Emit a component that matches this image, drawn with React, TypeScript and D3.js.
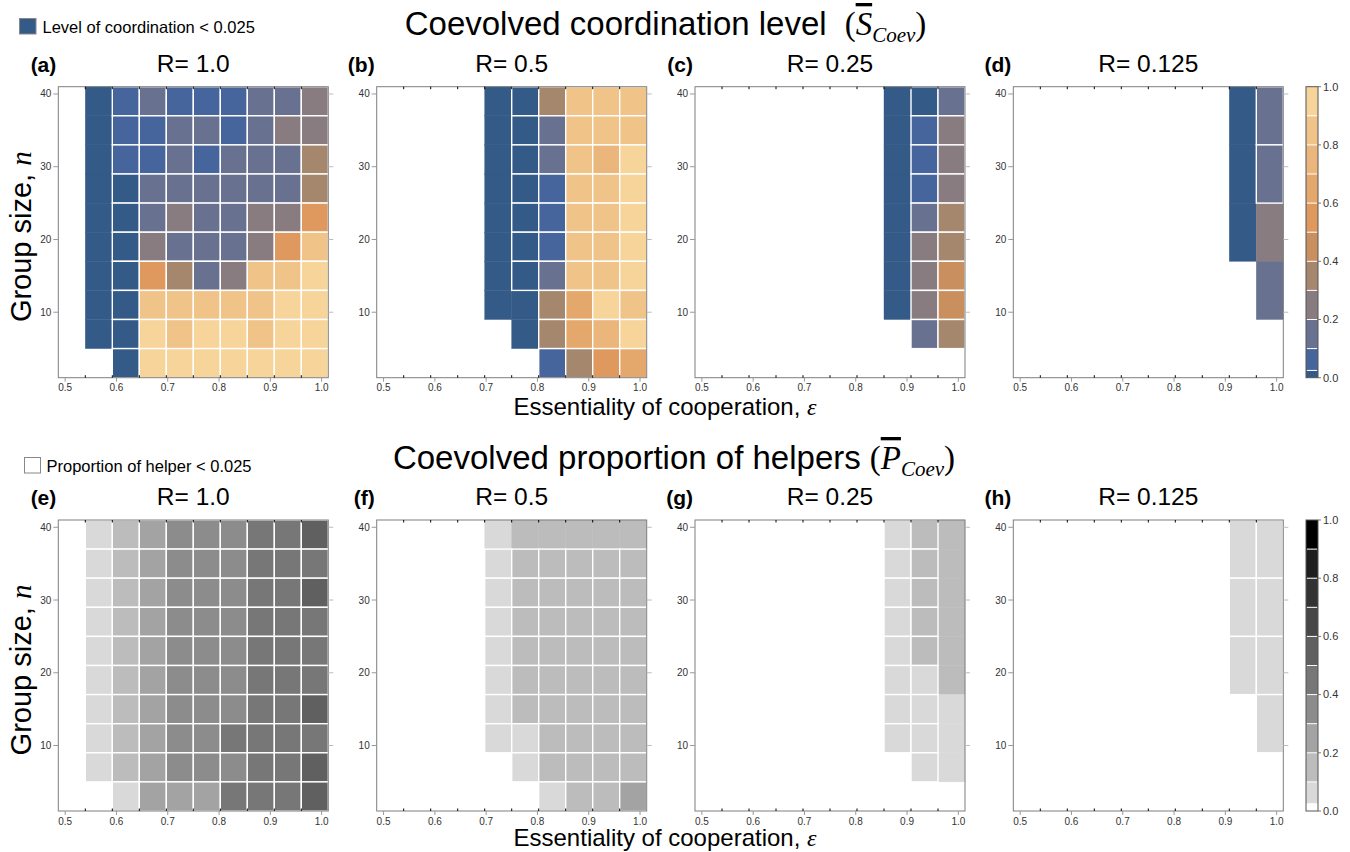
import { scaleLinear, scaleBand, scaleThreshold } from 'd3';

// group size rows (cell centres), top to bottom
const nRows4 = [39, 35, 31, 27, 23, 19, 15, 11, 7, 3];
const nRows8 = [37, 29, 21, 13, 5];
// essentiality columns (cell centres)
const epsilonCols = [0.513, 0.566, 0.618, 0.671, 0.724, 0.776, 0.829, 0.882, 0.934, 0.987];
const xTicks = [0.5, 0.6, 0.7, 0.8, 0.9, 1.0];
const yTicks = [10, 20, 30, 40];
const barTicks = [0, 0.2, 0.4, 0.6, 0.8, 1.0];
const binEdges = [0.025, 0.1, 0.2, 0.3, 0.4, 0.5, 0.6, 0.7, 0.8, 0.9];

const coordColors = ['#345a88', '#47659d', '#68718f', '#887c80', '#a5876e', '#c98f5e',
  '#df995f', '#e5a86c', '#ebb67b', '#f0c489', '#f6d49a'];
const helperColors = ['#ffffff', '#d9d9d9', '#bcbcbc', '#a3a3a3', '#8c8c8c', '#777777',
  '#606060', '#474747', '#333333', '#1e1e1e', '#000000'];

const _ = null;
// coordination level; 0 = below 0.025 (overlay, no mesh)
const coordR1 = [
  [_, 0, 0.06, 0.15, 0.07, 0.06, 0.05, 0.14, 0.16, 0.24],
  [_, 0, 0.06, 0.07, 0.15, 0.13, 0.05, 0.16, 0.26, 0.25],
  [_, 0, 0.06, 0.06, 0.14, 0.05, 0.15, 0.16, 0.14, 0.34],
  [_, 0, 0.02, 0.15, 0.14, 0.16, 0.15, 0.14, 0.13, 0.36],
  [_, 0, 0.02, 0.13, 0.25, 0.15, 0.14, 0.24, 0.26, 0.56],
  [_, 0, 0.02, 0.26, 0.15, 0.14, 0.16, 0.25, 0.55, 0.84],
  [_, 0, 0.02, 0.55, 0.35, 0.15, 0.26, 0.85, 0.83, 0.91],
  [_, 0, 0.02, 0.84, 0.85, 0.83, 0.86, 0.84, 0.92, 0.93],
  [_, 0, 0.02, 0.93, 0.84, 0.92, 0.94, 0.85, 0.91, 0.93],
  [_, _, 0.02, 0.94, 0.93, 0.95, 0.92, 0.93, 0.94, 0.92],
];
const coordR05 = [
  [_, _, _, _, 0, 0.02, 0.35, 0.85, 0.84, 0.86],
  [_, _, _, _, 0, 0.02, 0.15, 0.84, 0.85, 0.83],
  [_, _, _, _, 0, 0.02, 0.16, 0.86, 0.75, 0.93],
  [_, _, _, _, 0, 0.02, 0.06, 0.85, 0.84, 0.92],
  [_, _, _, _, 0, 0.02, 0.05, 0.84, 0.85, 0.93],
  [_, _, _, _, 0, 0.02, 0.06, 0.85, 0.86, 0.92],
  [_, _, _, _, 0, 0.02, 0.15, 0.84, 0.85, 0.94],
  [_, _, _, _, 0, 0, 0.36, 0.65, 0.93, 0.85],
  [_, _, _, _, _, 0, 0.35, 0.66, 0.74, 0.92],
  [_, _, _, _, _, _, 0.06, 0.36, 0.55, 0.64],
];
const coordR025 = [
  [_, _, _, _, _, _, _, 0, 0.02, 0.15],
  [_, _, _, _, _, _, _, 0, 0.06, 0.25],
  [_, _, _, _, _, _, _, 0, 0.05, 0.24],
  [_, _, _, _, _, _, _, 0, 0.06, 0.26],
  [_, _, _, _, _, _, _, 0, 0.15, 0.35],
  [_, _, _, _, _, _, _, 0, 0.25, 0.36],
  [_, _, _, _, _, _, _, 0, 0.24, 0.45],
  [_, _, _, _, _, _, _, 0, 0.26, 0.46],
  [_, _, _, _, _, _, _, _, 0.15, 0.35],
  [_, _, _, _, _, _, _, _, _, _],
];
const coordR0125 = [
  [_, _, _, _, _, _, _, _, 0, 0.15],
  [_, _, _, _, _, _, _, _, 0, 0.14],
  [_, _, _, _, _, _, _, _, 0, 0.25],
  [_, _, _, _, _, _, _, _, _, 0.15],
  [_, _, _, _, _, _, _, _, _, _],
];

// proportion of helpers
const helpR1 = [
  [_, 0.07, 0.15, 0.25, 0.35, 0.36, 0.34, 0.45, 0.46, 0.55],
  [_, 0.08, 0.16, 0.26, 0.34, 0.35, 0.36, 0.44, 0.45, 0.47],
  [_, 0.07, 0.15, 0.25, 0.36, 0.34, 0.35, 0.46, 0.45, 0.54],
  [_, 0.08, 0.16, 0.24, 0.35, 0.36, 0.34, 0.45, 0.44, 0.46],
  [_, 0.07, 0.15, 0.26, 0.34, 0.35, 0.36, 0.44, 0.46, 0.45],
  [_, 0.08, 0.16, 0.25, 0.35, 0.34, 0.35, 0.45, 0.45, 0.47],
  [_, 0.07, 0.15, 0.24, 0.36, 0.35, 0.34, 0.46, 0.44, 0.55],
  [_, 0.08, 0.16, 0.25, 0.35, 0.36, 0.45, 0.44, 0.46, 0.46],
  [_, 0.07, 0.15, 0.26, 0.34, 0.35, 0.36, 0.45, 0.45, 0.56],
  [_, _, 0.08, 0.25, 0.24, 0.26, 0.45, 0.44, 0.46, 0.54],
];
const helpR05 = [
  [_, _, _, _, 0.08, 0.15, 0.16, 0.15, 0.16, 0.15],
  [_, _, _, _, 0.07, 0.16, 0.15, 0.15, 0.16, 0.15],
  [_, _, _, _, 0.08, 0.15, 0.16, 0.16, 0.15, 0.16],
  [_, _, _, _, 0.07, 0.16, 0.15, 0.15, 0.16, 0.15],
  [_, _, _, _, 0.08, 0.15, 0.16, 0.16, 0.15, 0.16],
  [_, _, _, _, 0.07, 0.16, 0.15, 0.15, 0.16, 0.15],
  [_, _, _, _, 0.08, 0.15, 0.16, 0.16, 0.15, 0.16],
  [_, _, _, _, 0.07, 0.08, 0.15, 0.16, 0.15, 0.15],
  [_, _, _, _, _, 0.07, 0.16, 0.15, 0.15, 0.16],
  [_, _, _, _, _, _, 0.07, 0.15, 0.16, 0.25],
];
const helpR025 = [
  [_, _, _, _, _, _, _, 0.07, 0.15, 0.16],
  [_, _, _, _, _, _, _, 0.08, 0.16, 0.15],
  [_, _, _, _, _, _, _, 0.07, 0.15, 0.15],
  [_, _, _, _, _, _, _, 0.08, 0.16, 0.16],
  [_, _, _, _, _, _, _, 0.07, 0.15, 0.15],
  [_, _, _, _, _, _, _, 0.08, 0.07, 0.16],
  [_, _, _, _, _, _, _, 0.07, 0.08, 0.07],
  [_, _, _, _, _, _, _, 0.08, 0.07, 0.08],
  [_, _, _, _, _, _, _, _, 0.07, 0.07],
  [_, _, _, _, _, _, _, _, _, _],
];
const helpR0125 = [
  [_, _, _, _, _, _, _, _, 0.07, 0.08],
  [_, _, _, _, _, _, _, _, 0.08, 0.07],
  [_, _, _, _, _, _, _, _, 0.07, 0.08],
  [_, _, _, _, _, _, _, _, _, 0.07],
  [_, _, _, _, _, _, _, _, _, _],
];

// cells drawn without mesh lines: [row, col]
const bareD = [[2, 9], [3, 9]];
const bareF = [[0, 4], [0, 5], [0, 6], [0, 7], [0, 8], [0, 9]];
const bareG = [[0, 9], [1, 9], [2, 9], [3, 9], [4, 9], [5, 9], [6, 9], [7, 9], [8, 9]];

const SANS = 'Liberation Sans, Arial, Helvetica, sans-serif';
const SERIF = 'Liberation Serif, Times New Roman, serif';
const W = 270;
const H = 291;
const lefts = [58.3, 376.7, 695, 1013.3];
const tops = [86.7, 520];
const xTitleY = [415, 846];

const coordColor = scaleThreshold<number, string>().domain(binEdges).range(coordColors);
const helperColor = scaleThreshold<number, string>().domain(binEdges).range(helperColors);

function Panel({ left, top, grid, rows, step, colour, bare, tag, R }) {
  const x = scaleLinear().domain([0.4866, 1.013]).range([0, W]);
  const y = scaleLinear().domain([1, 41]).range([H, 0]);
  const band = scaleBand().domain(epsilonCols.map(String)).range([x(0.4866), x(1.013)]);
  const bareSet = new Set(bare.map(([r, c]) => r + '-' + c));
  const cells = [];
  grid.forEach((row, r) => row.forEach((v, c) => {
    if (v === null) return;
    const n = rows[r];
    const y0 = y(Math.min(n + step / 2, 41));
    const y1 = y(Math.max(n - step / 2, 1));
    const mesh = v !== 0 && !bareSet.has(r + '-' + c);
    cells.push({ key: r + '-' + c, x: band(String(epsilonCols[c])), y: y0, h: y1 - y0, fill: colour(v), mesh });
  }));
  const bounds = epsilonCols.slice(1).map((e) => band(String(e)));
  return (
    <g transform={`translate(${left},${top})`}>
      {cells.filter((d) => !d.mesh).map((d) => (
        <rect key={d.key} x={d.x} y={d.y} width={band.bandwidth()} height={d.h} fill={d.fill} stroke={d.fill} strokeWidth={0.4} />
      ))}
      {cells.filter((d) => d.mesh).map((d) => (
        <rect key={d.key} x={d.x} y={d.y} width={band.bandwidth()} height={d.h} fill={d.fill} stroke="#fff" strokeWidth={1.4} />
      ))}
      <rect x={0} y={0} width={W} height={H} fill="none" stroke="#7f7f7f" strokeWidth={1} />
      {bounds.map((b, i) => (
        <g key={i}>
          <line x1={b} x2={b} y1={0} y2={2.5} stroke="#000" />
          <line x1={b} x2={b} y1={H} y2={H - 2.5} stroke="#000" />
        </g>
      ))}
      {xTicks.map((t) => (
        <g key={t} transform={`translate(${x(t)},${H})`}>
          <line y1={0} y2={4} stroke="#999" />
          <text y={13.5} textAnchor="middle" fontSize={10} fill="#333" fontFamily={SANS}>{t.toFixed(1)}</text>
        </g>
      ))}
      {yTicks.map((t) => (
        <g key={t} transform={`translate(0,${y(t)})`}>
          <line x1={-5} x2={0} stroke="#999" />
          <line x1={W} x2={W + 5} stroke="#bbb" />
          <text x={-7} dy="0.35em" textAnchor="end" fontSize={10} fill="#333" fontFamily={SANS}>{t}</text>
        </g>
      ))}
      <text x={-2} y={-15} textAnchor="end" fontSize={21} fontWeight="bold" fontFamily={SANS}>{tag}</text>
      <text x={W / 2} y={-15} textAnchor="middle" fontSize={24.5} fontFamily={SANS}>R= {R}</text>
    </g>
  );
}

function ColorBar({ left, top, colors }) {
  const y = scaleLinear().domain([0, 1]).range([top + H, top]);
  const edges = [0, ...binEdges, 1];
  return (
    <g>
      {colors.map((c, i) => (
        <rect key={i} x={left} y={y(edges[i + 1])} width={12} height={y(edges[i]) - y(edges[i + 1])} fill={c} />
      ))}
      {binEdges.map((e) => (
        <line key={e} x1={left + 1} x2={left + 11} y1={y(e)} y2={y(e)} stroke="#fff" strokeWidth={1} />
      ))}
      <rect x={left} y={top} width={12} height={H} fill="none" stroke="#555" strokeWidth={1} />
      {barTicks.map((t) => (
        <g key={t} transform={`translate(${left + 12},${y(t)})`}>
          <line x1={0} x2={3} stroke="#777" />
          <text x={5} dy="0.35em" fontSize={11} fill="#333" fontFamily={SANS}>{t.toFixed(1)}</text>
        </g>
      ))}
    </g>
  );
}

const topPanels = [
  { tag: '(a)', R: '1.0', grid: coordR1, rows: nRows4, step: 4, bare: [] },
  { tag: '(b)', R: '0.5', grid: coordR05, rows: nRows4, step: 4, bare: [] },
  { tag: '(c)', R: '0.25', grid: coordR025, rows: nRows4, step: 4, bare: [] },
  { tag: '(d)', R: '0.125', grid: coordR0125, rows: nRows8, step: 8, bare: bareD },
];
const bottomPanels = [
  { tag: '(e)', R: '1.0', grid: helpR1, rows: nRows4, step: 4, bare: [] },
  { tag: '(f)', R: '0.5', grid: helpR05, rows: nRows4, step: 4, bare: bareF },
  { tag: '(g)', R: '0.25', grid: helpR025, rows: nRows4, step: 4, bare: bareG },
  { tag: '(h)', R: '0.125', grid: helpR0125, rows: nRows8, step: 8, bare: [] },
];

export default function App() {
  return (
    <svg width={1350} height={852} style={{ position: 'absolute', left: 0, top: 0, background: '#fff' }}>
      <rect width={1350} height={852} fill="#fff" />
      {/* legends */}
      <rect x={19.5} y={18.5} width={16.5} height={15.5} fill="#345a88" stroke="#888" />
      <text x={42.5} y={32.5} fontSize={16.5} fontFamily={SANS}>Level of coordination &lt; 0.025</text>
      <rect x={24.5} y={457.5} width={16} height={15.5} fill="#fff" stroke="#888" />
      <text x={46.5} y={471.5} fontSize={16.5} fontFamily={SANS}>Proportion of helper &lt; 0.025</text>

      {/* titles */}
      <text x={665.5} y={35} textAnchor="middle" fontSize={33} fontFamily={SANS}>
        Coevolved coordination level
        <tspan dx={18} fontFamily={SERIF} fontSize={33}>(</tspan>
        <tspan fontFamily={SERIF} fontStyle="italic" fontSize={33} textDecoration="overline">S</tspan>
        <tspan fontFamily={SERIF} fontStyle="italic" fontSize={21} dy={7}>Coev</tspan>
        <tspan fontFamily={SERIF} fontSize={33} dy={-7}>)</tspan>
      </text>
      <text x={674} y={469} textAnchor="middle" fontSize={33} fontFamily={SANS}>
        Coevolved proportion of helpers
        <tspan dx={9} fontFamily={SERIF} fontSize={33}>(</tspan>
        <tspan fontFamily={SERIF} fontStyle="italic" fontSize={33} textDecoration="overline">P</tspan>
        <tspan fontFamily={SERIF} fontStyle="italic" fontSize={21} dy={7}>Coev</tspan>
        <tspan fontFamily={SERIF} fontSize={33} dy={-7}>)</tspan>
      </text>

      {topPanels.map((p, i) => (
        <Panel key={p.tag} left={lefts[i]} top={tops[0]} colour={coordColor} {...p} />
      ))}
      {bottomPanels.map((p, i) => (
        <Panel key={p.tag} left={lefts[i]} top={tops[1]} colour={helperColor} {...p} />
      ))}
      <ColorBar left={1306} top={tops[0]} colors={coordColors} />
      <ColorBar left={1306} top={tops[1]} colors={helperColors} />

      {/* axis titles */}
      {tops.map((t, i) => (
        <g key={t}>
          <text transform={`translate(31,${t + 150}) rotate(-90)`} textAnchor="middle" fontSize={29} fontFamily={SANS}>
            Group size, <tspan fontFamily={SERIF} fontStyle="italic">n</tspan>
          </text>
          <text x={665} y={xTitleY[i]} textAnchor="middle" fontSize={24} fontFamily={SANS}>
            Essentiality of cooperation, <tspan fontFamily={SERIF} fontStyle="italic">ε</tspan>
          </text>
        </g>
      ))}
    </svg>
  );
}
